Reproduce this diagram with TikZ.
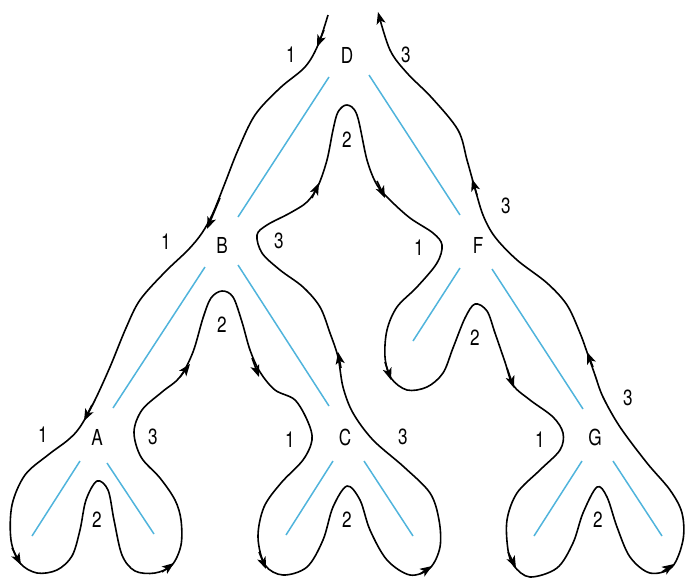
\documentclass[tikz,border=0pt]{standalone}
\usepackage{fontspec}
\setmainfont{TeX Gyre Heros}[FakeStretch=0.78]
\usetikzlibrary{arrows.meta}
\definecolor{edgeblue}{RGB}{80,180,220}
\tikzset{
  tour/.style={line width=1.6pt, line join=round},
  tip/.style={line width=1.6pt, -{Stealth[length=12pt,width=9pt,inset=3pt]}},
  edge/.style={edgeblue, line width=1.5pt},
  lbl/.style={font=\fontsize{22}{22}\selectfont, inner sep=0pt},
}
\begin{document}
\begin{tikzpicture}[x=1pt,y=-1pt]
\useasboundingbox (0,0) rectangle (686,581);

% tree nodes
\node[lbl] (D) at (347,55) {D};
\node[lbl] (B) at (222,245) {B};
\node[lbl] (F) at (478,245) {F};
\node[lbl] (A) at (97,437) {A};
\node[lbl] (C) at (345,437) {C};
\node[lbl] (G) at (595,437) {G};

% visit numbers
\node[lbl] (d1) at (291,55) {1};
\node[lbl] (d2) at (347,140) {2};
\node[lbl] (d3) at (406,55) {3};
\node[lbl] (b1) at (166,242) {1};
\node[lbl] (b2) at (222,325) {2};
\node[lbl] (b3) at (279,241) {3};
\node[lbl] (f1) at (419,248) {1};
\node[lbl] (f2) at (475,338) {2};
\node[lbl] (f3) at (506,206) {3};
\node[lbl] (a1) at (43,435) {1};
\node[lbl] (a2) at (97,520) {2};
\node[lbl] (a3) at (153,437) {3};
\node[lbl] (c1) at (290,440) {1};
\node[lbl] (c2) at (347,520) {2};
\node[lbl] (c3) at (403,437) {3};
\node[lbl] (g1) at (540,440) {1};
\node[lbl] (g2) at (598,520) {2};
\node[lbl] (g3) at (628,398) {3};

% tree edges and empty subtrees
\draw[edge] (329,77) -- (238,217);
\draw[edge] (369,75) -- (460,215);
\draw[edge] (205,267) -- (113,408);
\draw[edge] (238,265) -- (329,406);
\draw[edge] (460,268) -- (413,341);
\draw[edge] (492,269) -- (583,409);
\draw[edge] (80,461) -- (32,536);
\draw[edge] (107,463) -- (154,534);
\draw[edge] (333,461) -- (286,535);
\draw[edge] (364,461) -- (413,536);
\draw[edge] (582,461) -- (534,536);
\draw[edge] (613,461) -- (662,536);

% Euler tour around the tree
\draw[tour, -{Stealth[length=12pt,width=9pt,inset=3pt]}] plot[smooth, tension=0.55] coordinates {
(328,15) (318,45) (305,67) (280,88) (255,115) (238,150) (225,183) (213,213)
(202,233) (188,250) (165,272) (140,300) (126,328) (110,367) (94,402) (80,427)
(68,440) (48,455) (25,475) (12,505) (11,540) (20,563) (37,573) (57,570)
(72,556) (80,530) (86,500) (97,481) (108,490) (114,520) (122,555) (135,571)
(155,573) (172,565) (181,545) (181,520) (175,500) (160,478) (141,457) (134,432)
(142,410) (162,392) (180,377) (193,352) (203,318) (211,298) (222,291) (233,297)
(242,322) (250,350) (260,372) (275,390) (295,400) (308,422) (312,440) (303,460)
(281,483) (264,507) (258,537) (265,565) (283,575) (307,567) (323,540) (333,507)
(347,486) (360,500) (370,530) (387,560) (410,575) (430,568) (440,547) (439,520)
(430,493) (404,467) (373,440) (353,413) (343,387) (338,357) (330,333) (320,307)
(303,287) (280,270) (262,253) (257,235) (267,225) (290,213) (307,202) (318,186)
(327,160) (333,130) (338,112) (347,105) (357,115) (367,160) (377,185) (390,200)
(410,218) (433,233) (442,245) (437,263) (417,287) (397,307) (387,330) (385,357)
(391,378) (407,390) (427,387) (443,373) (453,348) (465,318) (475,304) (487,311)
(495,333) (505,362) (513,385) (530,400) (553,417) (563,433) (560,450) (540,470)
(517,493) (507,520) (508,550) (514,566) (530,577) (557,568) (573,543) (583,513)
(597,487) (607,497) (617,527) (630,557) (650,573) (672,567) (683,540) (682,513)
(670,490) (647,463) (620,427) (603,397) (595,375) (588,355) (580,333) (567,305)
(547,283) (517,260) (495,237) (483,215) (474,185) (467,160) (458,130) (432,98)
(407,73) (390,50) (378,12)};

% direction marks along the tour
\draw[tip] (324,30) -- (317,47);
\draw[tip] (220,198) -- (207,229);
\draw[tip] (92,405) -- (84,421);
\draw[tip] (12,548) -- (21,565);
\draw[tip] (162,572) -- (174,563);
\draw[tip] (180,377) -- (190,364);
\draw[tip] (252,358) -- (259,377);
\draw[tip] (259,552) -- (266,569);
\draw[tip] (420,574) -- (432,566);
\draw[tip] (341,368) -- (338,352);
\draw[tip] (312,198) -- (319,183);
\draw[tip] (377,181) -- (385,198);
\draw[tip] (385,362) -- (391,380);
\draw[tip] (507,368) -- (514,388);
\draw[tip] (508,552) -- (516,568);
\draw[tip] (662,572) -- (674,564);
\draw[tip] (593,367) -- (587,352);
\draw[tip] (477,195) -- (472,179);
\end{tikzpicture}
\end{document}
